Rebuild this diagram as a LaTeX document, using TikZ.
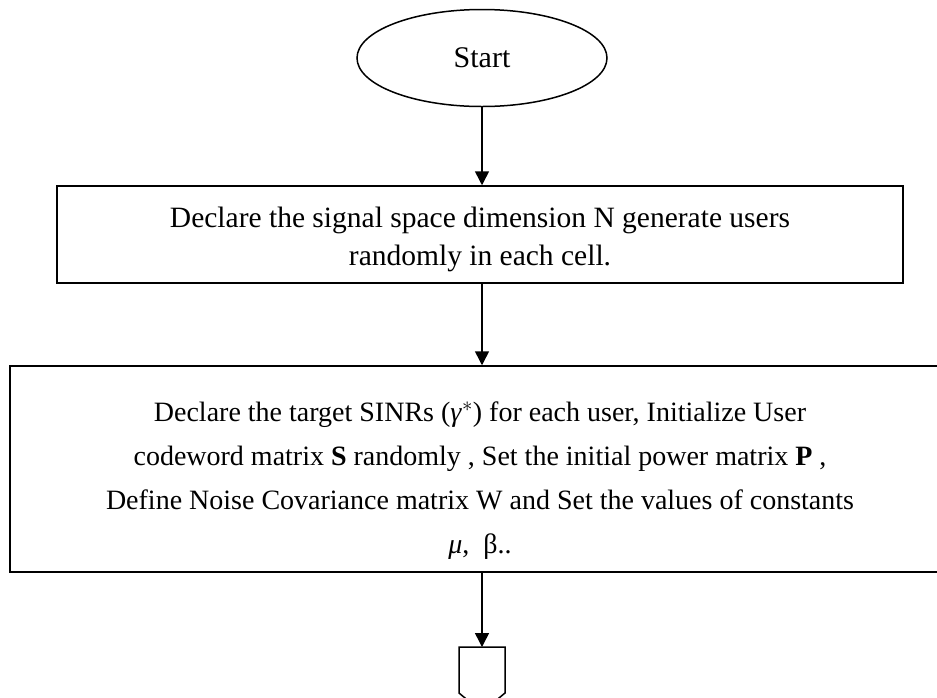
\documentclass[tikz,border=0pt]{standalone}
\usepackage{fontspec}
\setmainfont{Liberation Serif}
\usetikzlibrary{arrows.meta, shapes.geometric}
\tikzstyle{terminal}=[ellipse, draw=black, line width=1.5pt,
minimum width=250pt, minimum height=97pt]
\tikzstyle{process}=[rectangle, draw=black, line width=1.5pt, align=center]
\tikzstyle{flow}=[line width=1.5pt, -{Triangle[width=14pt, length=14pt]}]

\begin{document}
\begin{tikzpicture}[x=1pt, y=-1pt]
  \useasboundingbox (0, 0) rectangle (937, 697);

  % Start
  \node (start) at (482, 58) [terminal, font=\fontsize{30}{36}\selectfont] {Start};

  % Process boxes
  \node (declare) at (480, 234.5) [process, minimum width=846pt, minimum height=97pt,
    font=\fontsize{29.5}{38}\selectfont]
    {\rule{0pt}{30pt}Declare the signal space dimension N generate users\\
     randomly in each cell.};
  \node (init) at (480, 469) [process, minimum width=940pt, minimum height=206pt,
    font=\fontsize{28}{44}\selectfont]
    {\rule{0pt}{42pt}Declare the target SINRs (\textit{γ}$^{*}$) for each user, Initialize User\\
     codeword matrix \textbf{S} randomly , Set the initial power matrix \textbf{P} ,\\
     Define Noise Covariance matrix W and Set the values of constants\\
     \textit{μ},\ \ β..};

  % Off-page connector
  \coordinate (page) at (482, 647);
  \draw[line width=1.5pt] (459, 647) -- (505, 647) -- (505, 693) -- (482, 712)
    -- (459, 693) -- cycle;

  % Edges
  \draw[flow] (start) -- (start |- declare.north);
  \draw[flow] (declare.south -| start) -- (init.north -| start);
  \draw[flow] (init.south -| page) -- (page);
\end{tikzpicture}
\end{document}
